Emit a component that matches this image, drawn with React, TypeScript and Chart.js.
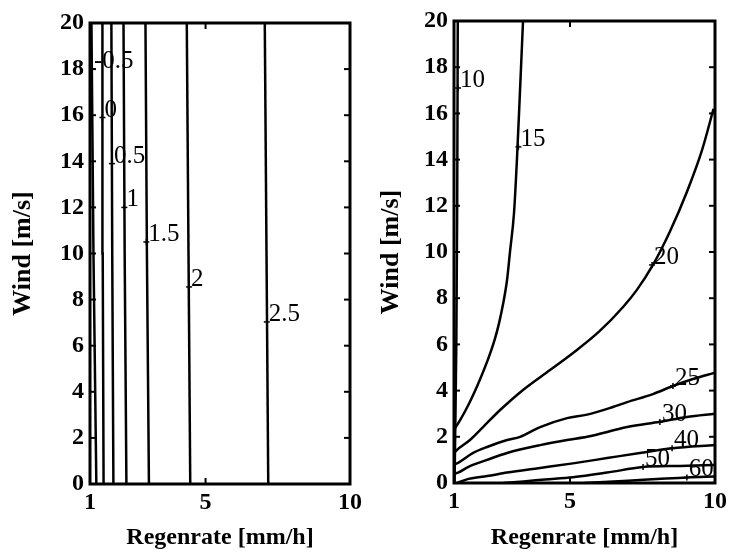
import { useEffect, useRef } from "react";
import { Chart, registerables } from "chart.js";

Chart.register(...registerables);

const SERIF = '"Liberation Serif", "Times New Roman", "DejaVu Serif", serif';

// Axis ticks
const rainTicks = [1, 5, 10];
const windMin = 0;
const windMax = 20;
const windStep = 2;

// Left panel: near-vertical iso-lines, rain rate at wind 0, 10 and 20 m/s
const leftWindStops = [0, 10, 20];
const leftLevels = ["-0.5", "0", "0.5", "1", "1.5", "2", "2.5"];
const isoM05 = [1.22, 1.12, 1.05];
const iso0 = [1.47, 1.44, 1.43];
const iso05 = [1.81, 1.77, 1.74];
const iso1 = [2.26, 2.2, 2.16];
const iso15 = [3.04, 2.97, 2.92];
const iso2 = [4.47, 4.41, 4.35];
const iso25 = [7.17, 7.11, 7.05];
const leftLabelRain = [1.07, 1.43, 1.76, 2.19, 2.95, 4.43, 7.12];
const leftLabelWind = [18.0, 15.9, 13.9, 12.0, 10.5, 8.55, 7.03];

// Right panel contours
const c10Rain = [1.02, 1.04, 1.08, 1.11, 1.13];
const c10Wind = [0, 2, 6, 12, 20];
const c15Rain = [1.0, 1.2, 1.4, 1.6, 1.8, 2.0, 2.2, 2.4, 2.55, 2.7, 2.83, 2.93, 3.07, 3.17, 3.27, 3.38];
const c15Wind = [2.3, 2.7, 3.15, 3.65, 4.2, 4.8, 5.45, 6.2, 6.9, 7.8, 8.8, 10.0, 11.7, 14.0, 16.8, 20.0];
const c20Rain = [1.0, 1.1, 1.55, 2.0, 2.59, 3.38, 4.31, 5.24, 6.0, 6.83, 7.3, 7.86, 8.45, 9.03, 9.55, 9.95];
const c20Wind = [1.3, 1.43, 1.86, 2.42, 3.16, 4.03, 4.89, 5.76, 6.55, 7.62, 8.35, 9.44, 10.9, 12.6, 14.4, 16.2];
const c25Rain = [1.0, 1.14, 1.66, 2.14, 2.83, 3.28, 3.97, 4.9, 5.59, 6.48, 6.97, 7.86, 8.55, 9.24, 10];
const c25Wind = [0.8, 0.87, 1.3, 1.56, 1.86, 2.0, 2.42, 2.81, 2.96, 3.29, 3.5, 3.85, 4.2, 4.5, 4.78];
const c30Rain = [1.0, 1.14, 1.5, 2.14, 2.83, 3.97, 4.9, 5.59, 6.97, 8.1, 9.03, 10];
const c30Wind = [0.4, 0.45, 0.7, 1.0, 1.3, 1.64, 1.86, 2.0, 2.42, 2.65, 2.86, 3.0];
const c40Rain = [1.12, 1.5, 2.14, 2.83, 3.97, 5.1, 6.28, 7.41, 8.52, 10];
const c40Wind = [0, 0.18, 0.3, 0.45, 0.65, 0.85, 1.08, 1.3, 1.5, 1.64];
const c50Rain = [2.7, 3.4, 4.14, 5.1, 6.28, 7.52, 8.8, 10];
const c50Wind = [0, 0.07, 0.15, 0.25, 0.45, 0.69, 0.74, 0.78];
const c60Rain = [5.5, 7.0, 8.0, 9.03, 10];
const c60Wind = [0, 0.1, 0.17, 0.24, 0.28];
const rightLevels = ["10", "15", "20", "25", "30", "40", "50", "60"];
const rightLabelRain = [1.14, 3.22, 7.83, 8.55, 8.1, 8.52, 7.52, 9.03];
const rightLabelWind = [17.1, 14.55, 9.44, 4.2, 2.64, 1.5, 0.69, 0.24];

type Pt = { x: number; y: number };
const zip = (xs: number[], ys: number[]): Pt[] => xs.map((x, i) => ({ x, y: ys[i] }));

const leftLines: Pt[][] = [isoM05, iso0, iso05, iso1, iso15, iso2, iso25].map((r) => zip(r, leftWindStops));
const rightLines: Pt[][] = [
  zip(c10Rain, c10Wind),
  zip(c15Rain, c15Wind),
  zip(c20Rain, c20Wind),
  zip(c25Rain, c25Wind),
  zip(c30Rain, c30Wind),
  zip(c40Rain, c40Wind),
  zip(c50Rain, c50Wind),
  zip(c60Rain, c60Wind),
];

type Box = { yWidth: number; xHeight: number; top: number; right: number; smooth: boolean };

function framePlugin(texts: string[], lx: number[], ly: number[]) {
  return {
    id: "frameTicksLabels",
    afterDatasetsDraw(chart: any) {
      const { ctx, chartArea: a, scales } = chart;
      const xs = scales.x;
      const ys = scales.y;
      ctx.save();
      ctx.strokeStyle = "#000";
      ctx.lineCap = "butt";
      ctx.lineWidth = 2;
      const seg = (x1: number, y1: number, x2: number, y2: number) => {
        ctx.beginPath();
        ctx.moveTo(x1, y1);
        ctx.lineTo(x2, y2);
        ctx.stroke();
      };
      // inward tick marks on all four sides
      for (let v = windMin; v <= windMax; v += windStep) {
        const y = ys.getPixelForValue(v);
        seg(a.left, y, a.left + 6, y);
        seg(a.right, y, a.right - 6, y);
      }
      for (const v of rainTicks) {
        const x = xs.getPixelForValue(v);
        seg(x, a.top, x, a.top + 6);
        seg(x, a.bottom, x, a.bottom - 6);
      }
      // plot frame
      ctx.lineWidth = 3;
      ctx.strokeRect(a.left, a.top, a.right - a.left, a.bottom - a.top);
      // contour labels with their '+' anchors
      ctx.fillStyle = "#000";
      ctx.font = `25px ${SERIF}`;
      ctx.textAlign = "left";
      ctx.textBaseline = "alphabetic";
      ctx.lineWidth = 1.5;
      texts.forEach((t, i) => {
        const px = xs.getPixelForValue(lx[i]);
        const py = ys.getPixelForValue(ly[i]);
        seg(px - 3, py, px + 3, py);
        seg(px, py - 3, px, py + 3);
        ctx.fillText(t, px + 2, py - 1);
      });
      ctx.restore();
    },
  };
}

function buildPanel(canvas: HTMLCanvasElement, lines: Pt[][], texts: string[], lx: number[], ly: number[], box: Box) {
  return new Chart(canvas, {
    type: "scatter",
    data: {
      datasets: lines.map((pts) => ({
        data: pts,
        showLine: true,
        borderColor: "#000",
        borderWidth: 2.5,
        pointRadius: 0,
        tension: 0,
        cubicInterpolationMode: box.smooth ? "monotone" : "default",
        fill: false,
      })),
    },
    options: {
      responsive: false,
      animation: false,
      devicePixelRatio: 1,
      layout: { padding: { left: 0, right: box.right, top: box.top, bottom: 0 } },
      plugins: { legend: { display: false }, tooltip: { enabled: false } },
      scales: {
        x: {
          type: "linear",
          min: 1,
          max: 10,
          afterBuildTicks: (s: any) => {
            s.ticks = rainTicks.map((v) => ({ value: v }));
          },
          afterFit: (s: any) => {
            s.height = box.xHeight;
          },
          grid: { display: false, drawTicks: false },
          border: { display: false },
          ticks: {
            autoSkip: false,
            maxRotation: 0,
            padding: 4,
            color: "#000",
            font: { family: SERIF, size: 24, weight: "bold" },
            callback: (v: any) => String(v),
          },
          title: {
            display: true,
            text: "Regenrate [mm/h]",
            color: "#000",
            font: { family: SERIF, size: 24, weight: "bold" },
            padding: { top: 0, bottom: 8 },
          },
        },
        y: {
          type: "linear",
          min: windMin,
          max: windMax,
          afterFit: (s: any) => {
            s.width = box.yWidth;
          },
          grid: { display: false, drawTicks: false },
          border: { display: false },
          ticks: {
            stepSize: windStep,
            autoSkip: false,
            padding: 6,
            color: "#000",
            font: { family: SERIF, size: 24, weight: "bold" },
            callback: (v: any) => String(v),
          },
          title: {
            display: true,
            text: "Wind [m/s]",
            color: "#000",
            font: { family: SERIF, size: 26, weight: "bold" },
            padding: { top: 8, bottom: 0 },
          },
        },
      },
    } as any,
    plugins: [framePlugin(texts, lx, ly)],
  });
}

export default function App() {
  const leftRef = useRef<HTMLCanvasElement>(null);
  const rightRef = useRef<HTMLCanvasElement>(null);

  useEffect(() => {
    const left = buildPanel(leftRef.current!, leftLines, leftLevels, leftLabelRain, leftLabelWind, {
      yWidth: 90,
      xHeight: 76,
      top: 23,
      right: 18,
      smooth: false,
    });
    const right = buildPanel(rightRef.current!, rightLines, rightLevels, rightLabelRain, rightLabelWind, {
      yWidth: 86,
      xHeight: 77,
      top: 21,
      right: 21,
      smooth: true,
    });
    return () => {
      left.destroy();
      right.destroy();
    };
  }, []);

  return (
    <div style={{ position: "absolute", left: 0, top: 0, width: 736, height: 560, background: "#fff" }}>
      <canvas ref={leftRef} width={368} height={560} style={{ position: "absolute", left: 0, top: 0 }} />
      <canvas ref={rightRef} width={368} height={560} style={{ position: "absolute", left: 368, top: 0 }} />
    </div>
  );
}
